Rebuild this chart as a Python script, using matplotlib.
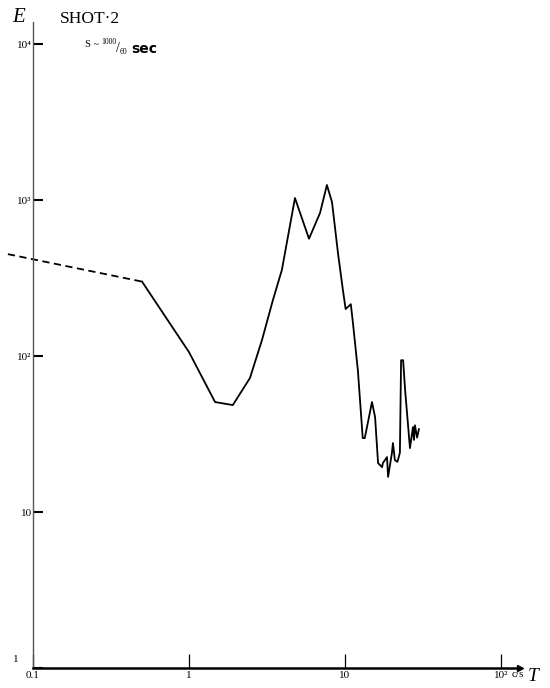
import matplotlib.pyplot as plt
import numpy as np

plt.rcParams['font.family'] = ['Liberation Serif', 'DejaVu Serif']

# dashed extrapolation (c/s, E)
dash_f = [0.069, 0.5]
dash_e = [450, 300]

# measured curve
freq = [0.5, 1.0, 1.47, 1.91, 2.46, 2.94, 3.45, 3.94, 4.78, 5.88, 6.92, 7.66,
        8.26, 9.02, 9.7, 10.1, 10.9, 11.2, 12.1, 13.0, 13.4, 14.9, 15.6, 16.3,
        17.3, 17.5, 18.6, 18.9, 20.0, 20.3, 20.9, 21.7, 22.5, 22.9, 23.6, 24.3,
        26.1, 27.3, 27.7, 28.1, 29.0, 29.8]
energy = [300, 106, 50.7, 48.5, 72.3, 127, 228, 356, 1030, 565, 826, 1248,
          970, 457, 265, 200, 215, 170, 81, 29.8, 29.8, 50.7, 40.6, 20.6,
          19.4, 20.6, 22.5, 16.8, 23.9, 27.7, 21.5, 21.0, 24.0, 94, 94, 60.5,
          25.7, 35.1, 29.0, 36.0, 30.0, 34.0]

x_ticks = [0.1, 1, 10, 100]
x_labels = ['0.1', '1', '10', '10²']
y_ticks = [1, 10, 100, 1000, 10000]
y_labels = ['', '10', '10²', '10³', '10⁴']

fig = plt.figure(figsize=(5.5, 6.88), dpi=100)
ax = fig.add_axes([0.06, 0.029, 0.885, 0.939])

ax.plot(dash_f, dash_e, color='black', linestyle=(0, (4, 2.5)), linewidth=1.3, clip_on=False)
ax.plot(freq, energy, color='black', linewidth=1.3)

ax.set_xscale('log')
ax.set_yscale('log')
ax.set_xlim(0.1, 132)
ax.set_ylim(1, 13840)

ax.spines['top'].set_visible(False)
ax.spines['right'].set_visible(False)
ax.spines['left'].set_color('#555555')
ax.spines['left'].set_linewidth(1.0)
ax.spines['bottom'].set_linewidth(1.8)

ax.minorticks_off()
ax.set_xticks(x_ticks)
ax.set_xticklabels(x_labels, fontsize=8)
ax.set_yticks(y_ticks)
ax.set_yticklabels(y_labels, fontsize=8)
ax.tick_params(axis='x', direction='in', length=10, width=0.9, pad=2)
ax.tick_params(axis='y', direction='in', length=7, width=1.5, pad=1)

# y label "1" sits a little above the corner
fig.text(0.028, 0.042, '1', fontsize=8, ha='center', va='center')

# arrow at end of x axis
ax.plot([132], [1], marker='>', color='black', markersize=4, clip_on=False)

fig.text(0.022, 0.975, 'E', fontsize=15, style='italic', ha='left', va='center')
fig.text(0.108, 0.973, 'SHOT·2', fontsize=12.5, ha='left', va='center')
fig.text(0.155, 0.936, 'S ~', fontsize=7.5, ha='left', va='center')
fig.text(0.185, 0.939, '1000', fontsize=5.5, ha='left', va='center')
fig.text(0.210, 0.930, '/', fontsize=10, ha='left', va='center')
fig.text(0.218, 0.925, '60', fontsize=5.5, ha='left', va='center')
fig.text(0.238, 0.929, 'sec', fontsize=10, fontweight='bold', family='DejaVu Sans',
         ha='left', va='center')
fig.text(0.930, 0.020, 'c/s', fontsize=8, ha='left', va='center')
fig.text(0.960, 0.017, 'T', fontsize=14, style='italic', ha='left', va='center')

fig.savefig('out.png', dpi=100)
